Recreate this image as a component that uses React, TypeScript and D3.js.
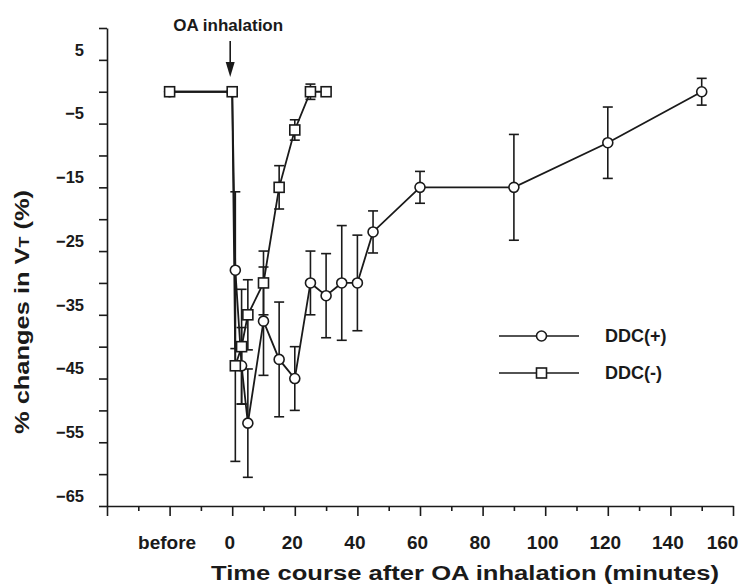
import React, { useEffect, useRef } from "react";
import * as d3 from "d3";

// time in minutes after OA inhalation; "before" is drawn at -20
const BEFORE = -20;
const ddcMinusTime = [BEFORE, 0, 1, 3, 5, 10, 15, 20, 25, 30];
const ddcMinusMean = [0, 0, -43, -40, -35, -30, -15, -6, 0, 0];
const ddcMinusErr = [0, 0, 15, 9, 5.5, 5, 3.4, 1.6, 1.2, 0];

const ddcPlusTime = [BEFORE, 0, 1, 3, 5, 10, 15, 20, 25, 30, 35, 40, 45, 60, 90, 120, 150];
const ddcPlusMean = [0, 0, -28, -43, -52, -36, -42, -45, -30, -32, -30, -30, -22, -15, -15, -8, 0];
const ddcPlusErr = [0, 0, 12.3, 6, 8.5, 8.5, 9, 5, 5, 6.6, 9, 7.5, 3.3, 2.5, 8.3, 5.6, 2.1];

const xTicks = d3.range(-40, 161, 10);
const xLabelled = [BEFORE, 0, 20, 40, 60, 80, 100, 120, 140, 160];
const yTicks = d3.range(-65, 11, 5);
const yLabelled = [5, -5, -15, -25, -35, -45, -55, -65];

const legendItems = ["DDC(+)", "DDC(-)"];

const INK = "#1a1a1a";
const FONT = "'Liberation Sans', Arial, Helvetica, sans-serif";

export default function App() {
  const svgRef = useRef<SVGSVGElement | null>(null);

  useEffect(() => {
    if (!svgRef.current) return;
    const svg = d3.select(svgRef.current);
    svg.selectAll("*").remove();

    const x = d3.scaleLinear().domain([-40, 160]).range([107, 733]);
    const y = d3.scaleLinear().domain([-65, 10]).range([506, 28]);

    svg.append("rect").attr("width", 742).attr("height", 586).attr("fill", "#fff");

    // y axis
    const yAxis = d3
      .axisLeft(y)
      .tickValues(yTicks)
      .tickSize(8)
      .tickSizeOuter(0)
      .tickPadding(15)
      .tickFormat((d) => (yLabelled.includes(+d) ? String(d).replace("-", "\u2212") : ""));
    const gy = svg.append("g").attr("transform", `translate(${x(-40)},0)`).call(yAxis);
    gy.selectAll("text")
      .attr("transform", "translate(0,-10)")
      .style("font-size", "16.5px");

    // x axis
    const xAxis = d3
      .axisBottom(x)
      .tickValues(xTicks)
      .tickSize(5)
      .tickSizeOuter(0)
      .tickFormat((d) => (+d === BEFORE ? "before" : xLabelled.includes(+d) ? String(d) : ""));
    const gx = svg.append("g").attr("transform", `translate(0,${y(-65)})`).call(xAxis);
    gx.selectAll(".tick line").attr("y2", (d: any) => (d % 20 === 0 ? 10 : 5));
    gx.selectAll("text")
      .attr("y", 43)
      .attr("dy", 0)
      .attr("dx", (d: any) => (d === 160 ? -11 : -3))
      .style("font-size", "19px");

    for (const g of [gx, gy]) {
      g.selectAll("path, line").attr("stroke", INK).attr("stroke-width", 1.6);
      g.selectAll("text")
        .attr("fill", INK)
        .style("font-family", FONT)
        .style("font-weight", "bold");
    }

    const plus = ddcPlusTime.map((t, i) => ({ t, v: ddcPlusMean[i], e: ddcPlusErr[i] }));
    const minus = ddcMinusTime.map((t, i) => ({ t, v: ddcMinusMean[i], e: ddcMinusErr[i] }));

    const line = d3
      .line<{ t: number; v: number }>()
      .x((d) => x(d.t))
      .y((d) => y(d.v));

    const plot = svg.append("g");
    for (const series of [plus, minus]) {
      plot
        .append("path")
        .datum(series)
        .attr("fill", "none")
        .attr("stroke", INK)
        .attr("stroke-width", 1.8)
        .attr("d", line);
    }

    // error bars
    const bars = [...plus, ...minus].filter((d) => d.e > 0);
    const eb = plot
      .selectAll("g.eb")
      .data(bars)
      .join("g")
      .attr("stroke", INK)
      .attr("stroke-width", 1.6);
    eb.append("line")
      .attr("x1", (d) => x(d.t))
      .attr("x2", (d) => x(d.t))
      .attr("y1", (d) => y(d.v + d.e))
      .attr("y2", (d) => y(d.v - d.e));
    for (const sign of [1, -1]) {
      eb.append("line")
        .attr("x1", (d) => x(d.t) - 5)
        .attr("x2", (d) => x(d.t) + 5)
        .attr("y1", (d) => y(d.v + sign * d.e))
        .attr("y2", (d) => y(d.v + sign * d.e));
    }

    // markers
    plot
      .selectAll("circle.pt")
      .data(plus)
      .join("circle")
      .attr("cx", (d) => x(d.t))
      .attr("cy", (d) => y(d.v))
      .attr("r", 5)
      .attr("fill", "#fff")
      .attr("stroke", INK)
      .attr("stroke-width", 1.6);
    plot
      .selectAll("rect.pt")
      .data(minus)
      .join("rect")
      .attr("x", (d) => x(d.t) - 5)
      .attr("y", (d) => y(d.v) - 5)
      .attr("width", 10)
      .attr("height", 10)
      .attr("fill", "#fff")
      .attr("stroke", INK)
      .attr("stroke-width", 1.6);

    // legend
    legendItems.forEach((name, i) => {
      const ly = 336 + i * 37;
      const lg = svg.append("g");
      lg.append("line")
        .attr("x1", 499)
        .attr("x2", 579)
        .attr("y1", ly)
        .attr("y2", ly)
        .attr("stroke", INK)
        .attr("stroke-width", 1.6);
      if (i === 0) {
        lg.append("circle").attr("cx", 541.5).attr("cy", ly).attr("r", 5);
      } else {
        lg.append("rect").attr("x", 536.5).attr("y", ly - 5).attr("width", 10).attr("height", 10);
      }
      lg.selectAll("circle, rect").attr("fill", "#fff").attr("stroke", INK).attr("stroke-width", 1.6);
      lg.append("text")
        .attr("x", 605)
        .attr("y", ly)
        .attr("dy", "0.35em")
        .attr("fill", INK)
        .style("font-family", FONT)
        .style("font-weight", "bold")
        .style("font-size", "18px")
        .text(name);
    });

    // OA inhalation arrow
    const ax = x(0) - 2;
    svg.append("line")
      .attr("x1", ax)
      .attr("x2", ax)
      .attr("y1", 41)
      .attr("y2", 64)
      .attr("stroke", INK)
      .attr("stroke-width", 1.6);
    svg.append("path")
      .attr("d", `M${ax - 4.5},62L${ax + 4.5},62L${ax},77Z`)
      .attr("fill", INK);
    svg.append("text")
      .attr("x", ax - 2)
      .attr("y", 31)
      .attr("text-anchor", "middle")
      .attr("fill", INK)
      .style("font-family", FONT)
      .style("font-weight", "bold")
      .style("font-size", "17px")
      .text("OA inhalation");

    // axis titles
    svg.append("text")
      .attr("x", 465)
      .attr("y", 580)
      .attr("text-anchor", "middle")
      .attr("textLength", 508)
      .attr("lengthAdjust", "spacingAndGlyphs")
      .attr("fill", INK)
      .style("font-family", FONT)
      .style("font-weight", "bold")
      .style("font-size", "20px")
      .text("Time course after OA inhalation (minutes)");

    const yt = svg
      .append("text")
      .attr("transform", "translate(29,312) rotate(-90)")
      .attr("text-anchor", "middle")
      .attr("textLength", 244)
      .attr("lengthAdjust", "spacingAndGlyphs")
      .attr("fill", INK)
      .style("font-family", FONT)
      .style("font-weight", "bold")
      .style("font-size", "20px");
    yt.append("tspan").text("% changes in V");
    yt.append("tspan").style("font-size", "14px").text("T");
    yt.append("tspan").text(" (%)");
  }, []);

  return (
    <svg
      ref={svgRef}
      width={742}
      height={586}
      style={{ position: "absolute", left: 0, top: 0 }}
    />
  );
}
